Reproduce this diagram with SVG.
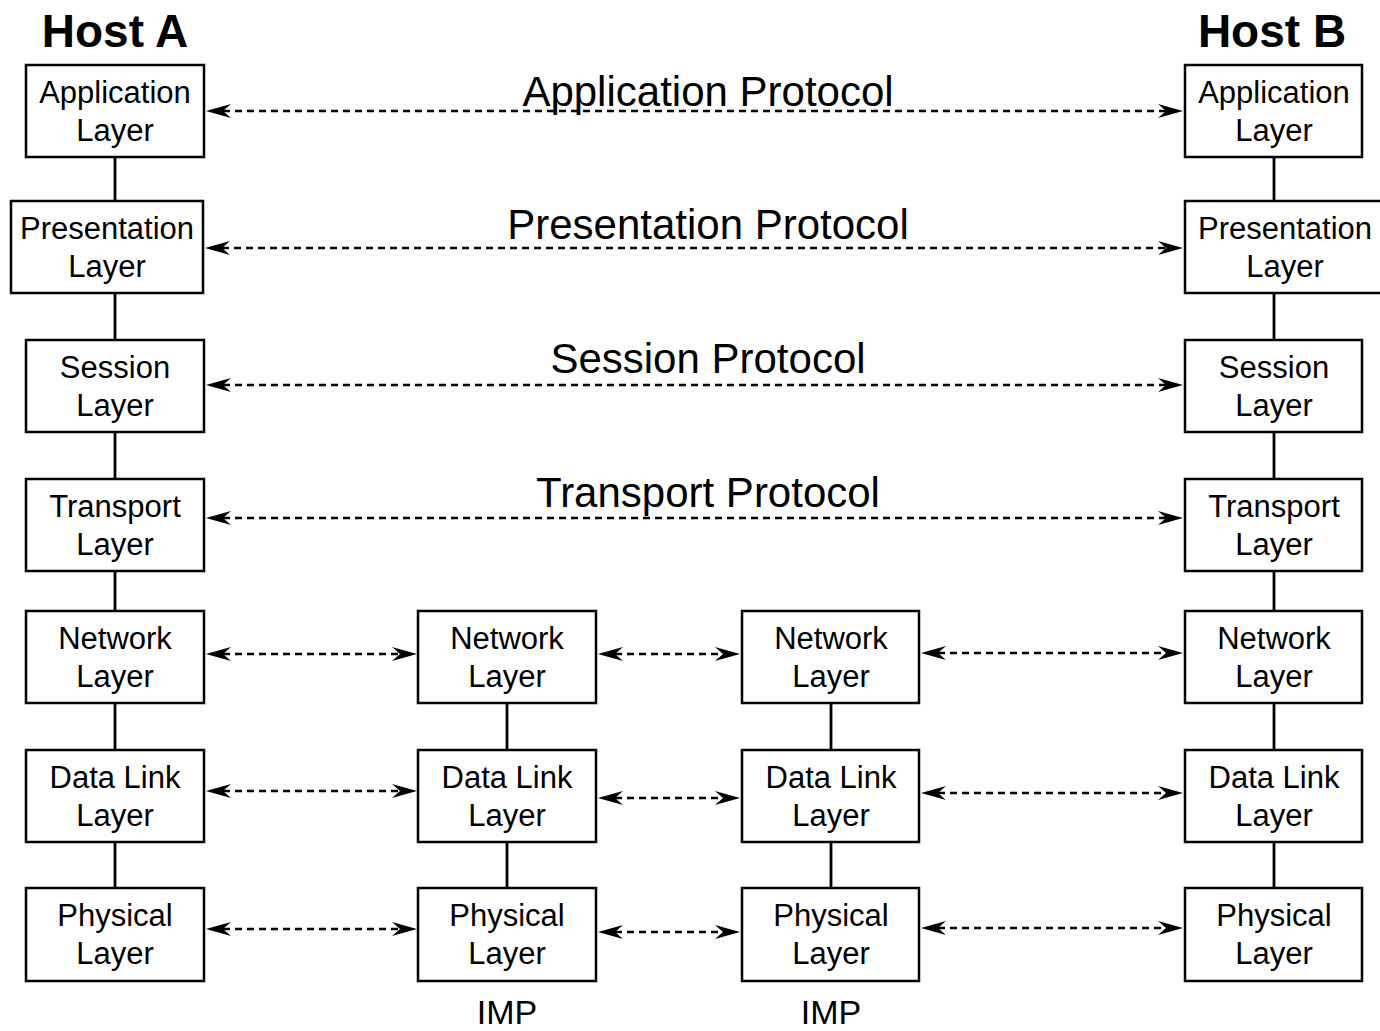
<svg xmlns="http://www.w3.org/2000/svg" width="1380" height="1031" viewBox="0 0 1380 1031">
  <style>
    .box { fill: #ffffff; stroke: #000000; stroke-width: 2.5; }
    .lbl { font-family: "Liberation Sans", Arial, sans-serif; font-size: 31px; fill: #000000; text-anchor: middle; }
    .title { font-family: "Liberation Sans", Arial, sans-serif; font-size: 46px; font-weight: bold; fill: #000000; text-anchor: middle; }
    .proto { font-family: "Liberation Sans", Arial, sans-serif; font-size: 42px; fill: #000000; text-anchor: middle; }
    .imp { font-family: "Liberation Sans", Arial, sans-serif; font-size: 34px; fill: #000000; text-anchor: middle; }
    .link { stroke: #000000; stroke-width: 2.8; fill: none; }
    .peer { stroke: #000000; stroke-width: 2.7; fill: none; stroke-dasharray: 7 5; marker-start: url(#head); marker-end: url(#head); }
  </style>
  <defs>
    <marker id="head" markerUnits="userSpaceOnUse" viewBox="0 0 25 14" markerWidth="25" markerHeight="14" refX="8" refY="7" orient="auto-start-reverse">
      <path d="M0,0 L25,7 L0,14 L8,7 Z" fill="#000000"/>
    </marker>
  </defs>

  <rect width="1380" height="1031" fill="#ffffff"/>

  <!-- column headings -->
  <text class="title" x="115" y="47">Host A</text>
  <text class="title" x="1272" y="47">Host B</text>

  <!-- protocol labels -->
  <text class="proto" x="708" y="106">Application Protocol</text>
  <text class="proto" x="708" y="239">Presentation Protocol</text>
  <text class="proto" x="708" y="373">Session Protocol</text>
  <text class="proto" x="708" y="507">Transport Protocol</text>

  <!-- connectors: stack links and peer-to-peer protocol arrows -->
  <g id="connectors">
    <path class="link" d="M115,157V201 M115,293V340 M115,432V479 M115,571V611 M115,703V750 M115,842V888"/>
    <path class="link" d="M1274,157V201 M1274,293V340 M1274,432V479 M1274,571V611 M1274,703V750 M1274,842V888"/>
    <path class="link" d="M507,703V750 M507,842V888"/>
    <path class="link" d="M831,703V750 M831,842V888"/>

    <line class="peer" x1="223" y1="111" x2="1166" y2="111"/>
    <line class="peer" x1="222" y1="248" x2="1166" y2="248"/>
    <line class="peer" x1="223" y1="385" x2="1166" y2="385"/>
    <line class="peer" x1="223" y1="518" x2="1166" y2="518"/>

    <line class="peer" x1="223" y1="654" x2="400" y2="654"/>
    <line class="peer" x1="615" y1="654" x2="723" y2="654"/>
    <line class="peer" x1="938" y1="653" x2="1166" y2="653"/>

    <line class="peer" x1="223" y1="791" x2="400" y2="791"/>
    <line class="peer" x1="615" y1="798" x2="723" y2="798"/>
    <line class="peer" x1="938" y1="793" x2="1166" y2="793"/>

    <line class="peer" x1="223" y1="929" x2="400" y2="929"/>
    <line class="peer" x1="615" y1="932" x2="723" y2="932"/>
    <line class="peer" x1="938" y1="928" x2="1166" y2="928"/>
  </g>

  <!-- Host A stack -->
  <g id="a-application"><rect class="box" x="26" y="65" width="178" height="92"/><text class="lbl" x="115" y="103">Application</text><text class="lbl" x="115" y="141">Layer</text></g>
  <g id="a-presentation"><rect class="box" x="11" y="201" width="192" height="92"/><text class="lbl" x="107" y="239">Presentation</text><text class="lbl" x="107" y="277">Layer</text></g>
  <g id="a-session"><rect class="box" x="26" y="340" width="178" height="92"/><text class="lbl" x="115" y="378">Session</text><text class="lbl" x="115" y="416">Layer</text></g>
  <g id="a-transport"><rect class="box" x="26" y="479" width="178" height="92"/><text class="lbl" x="115" y="517">Transport</text><text class="lbl" x="115" y="555">Layer</text></g>
  <g id="a-network"><rect class="box" x="26" y="611" width="178" height="92"/><text class="lbl" x="115" y="649">Network</text><text class="lbl" x="115" y="687">Layer</text></g>
  <g id="a-datalink"><rect class="box" x="26" y="750" width="178" height="92"/><text class="lbl" x="115" y="788">Data Link</text><text class="lbl" x="115" y="826">Layer</text></g>
  <g id="a-physical"><rect class="box" x="26" y="888" width="178" height="93"/><text class="lbl" x="115" y="926">Physical</text><text class="lbl" x="115" y="964">Layer</text></g>

  <!-- first IMP -->
  <g id="imp1-network"><rect class="box" x="418" y="611" width="178" height="92"/><text class="lbl" x="507" y="649">Network</text><text class="lbl" x="507" y="687">Layer</text></g>
  <g id="imp1-datalink"><rect class="box" x="418" y="750" width="178" height="92"/><text class="lbl" x="507" y="788">Data Link</text><text class="lbl" x="507" y="826">Layer</text></g>
  <g id="imp1-physical"><rect class="box" x="418" y="888" width="178" height="93"/><text class="lbl" x="507" y="926">Physical</text><text class="lbl" x="507" y="964">Layer</text></g>
  <text class="imp" x="507" y="1024">IMP</text>

  <!-- second IMP -->
  <g id="imp2-network"><rect class="box" x="742" y="611" width="177" height="92"/><text class="lbl" x="831" y="649">Network</text><text class="lbl" x="831" y="687">Layer</text></g>
  <g id="imp2-datalink"><rect class="box" x="742" y="750" width="177" height="92"/><text class="lbl" x="831" y="788">Data Link</text><text class="lbl" x="831" y="826">Layer</text></g>
  <g id="imp2-physical"><rect class="box" x="742" y="888" width="177" height="93"/><text class="lbl" x="831" y="926">Physical</text><text class="lbl" x="831" y="964">Layer</text></g>
  <text class="imp" x="831" y="1024">IMP</text>

  <!-- Host B stack -->
  <g id="b-application"><rect class="box" x="1185" y="65" width="177" height="92"/><text class="lbl" x="1274" y="103">Application</text><text class="lbl" x="1274" y="141">Layer</text></g>
  <g id="b-presentation"><rect class="box" x="1185" y="201" width="200" height="92"/><text class="lbl" x="1285" y="239">Presentation</text><text class="lbl" x="1285" y="277">Layer</text></g>
  <g id="b-session"><rect class="box" x="1185" y="340" width="177" height="92"/><text class="lbl" x="1274" y="378">Session</text><text class="lbl" x="1274" y="416">Layer</text></g>
  <g id="b-transport"><rect class="box" x="1185" y="479" width="177" height="92"/><text class="lbl" x="1274" y="517">Transport</text><text class="lbl" x="1274" y="555">Layer</text></g>
  <g id="b-network"><rect class="box" x="1185" y="611" width="177" height="92"/><text class="lbl" x="1274" y="649">Network</text><text class="lbl" x="1274" y="687">Layer</text></g>
  <g id="b-datalink"><rect class="box" x="1185" y="750" width="177" height="92"/><text class="lbl" x="1274" y="788">Data Link</text><text class="lbl" x="1274" y="826">Layer</text></g>
  <g id="b-physical"><rect class="box" x="1185" y="888" width="177" height="93"/><text class="lbl" x="1274" y="926">Physical</text><text class="lbl" x="1274" y="964">Layer</text></g>
</svg>
